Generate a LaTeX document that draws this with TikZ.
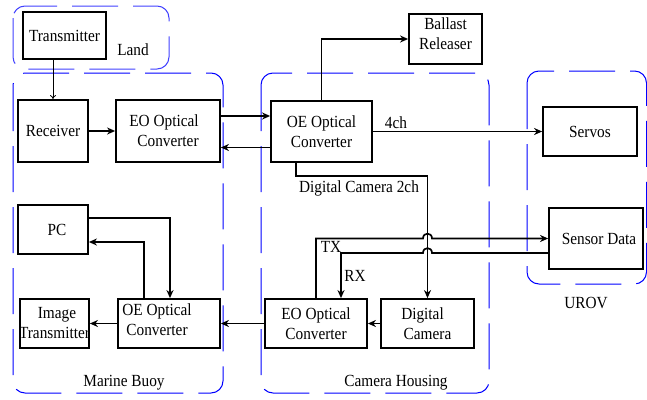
\documentclass[tikz,border=0pt]{standalone}
\usepackage{fontspec}
\setmainfont{Liberation Serif}[FakeStretch=0.9]
\usetikzlibrary{arrows.meta,calc}

\begin{document}
\begin{tikzpicture}[x=1pt,y=-1pt,
  font=\fontsize{17}{20}\selectfont,
  box/.style={draw, line width=1.8pt, inner sep=0pt, align=center},
  group/.style={draw=blue, line width=1pt, rounded corners=12pt,
                dash pattern=on 46pt off 15pt},
  conn/.style={line width=1.7pt, -{Stealth[length=8pt,width=7pt,inset=2.5pt]}},
  thin/.style={line width=0.8pt, -{To[length=4pt,width=6pt]}},
  tag/.style={inner sep=0pt}]
\useasboundingbox (0,0) rectangle (647,399);

% enclosing regions
\draw[group, draw=blue!75] (13,6) rectangle (169,69);
\draw[group] (13,73) rectangle (223,393);
\draw[group] (261,73) rectangle (489,393);
\draw[group] (527,71) rectangle (646.5,284);

% blocks
\node[box, minimum width=83pt, minimum height=47pt] (tx) at (64.5,35.5) {Transmitter};
\node[box, minimum width=70pt, minimum height=62pt] (rx) at (53,131) {Receiver};
\node[box, minimum width=104pt, minimum height=62pt] (eo1) at (168,131) {\hspace*{-8pt}EO Optical\\Converter};
\node[box, minimum width=101pt, minimum height=61pt] (oe1) at (321.5,131.5) {OE Optical\\Converter};
\node[box, minimum width=73pt, minimum height=50pt] (bal) at (445.5,39) {Ballast\\Releaser\\[-9pt]};
\node[box, minimum width=94pt, minimum height=49pt] (srv) at (590,131.5) {Servos};
\node[box, minimum width=94pt, minimum height=61pt] (sen) at (596,238.5) {\hspace*{6pt}Sensor Data};
\node[box, minimum width=70pt, minimum height=49pt] (pc) at (53,229.5) {\hspace*{8pt}PC};
\node[box, minimum width=69pt, minimum height=49pt] (img) at (54.5,323.5) {\hspace*{5pt}Image\\\makebox[60pt]{Transmitter}};
\node[box, minimum width=102pt, minimum height=49pt] (oe2) at (169,323.5) {};
\node[tag, align=center] (oe2t) at (157,319.5) {OE Optical\\Converter};
\node[box, minimum width=102pt, minimum height=49pt] (eo2) at (316,323.5) {EO Optical\\Converter};
\node[box, minimum width=93pt, minimum height=49pt] (dc) at (427.5,323.5) {\hspace*{-10pt}Digital\\Camera};

% region and channel labels
\node[tag] (landlbl) at (133,50) {Land};
\node[tag] (buoylbl) at (124,383) {Marine Buoy};
\node[tag] (houslbl) at (396,383) {Camera Housing};
\node[tag] (urovlbl) at (586,303) {UROV};
\node[tag] (ch4) at (396,123) {4ch};
\node[tag] (ch2) at (359,188) {Digital Camera 2ch};
\node[tag] (txlbl) at (331,247) {TX};
\node[tag] (rxlbl) at (355,276) {RX};

% shore link
\draw[thin] (rx.north |- tx.south) -- (rx.north);

% buoy top row
\draw[conn] (rx.east) -- (eo1.west);
\draw[conn] ([yshift=15pt]eo1.east) -- ([yshift=15pt]eo1.east -| oe1.west);
\draw[conn] ([yshift=-16pt]oe1.west) -- ([yshift=-16pt]oe1.west -| eo1.east);

% housing outputs
\draw[conn] (oe1.north) |- (bal.west);
\draw[conn] (oe1.east |- srv.west) -- (srv.west);
\draw[conn] ([xshift=-25.5pt]oe1.south) -- ++(0,13) -| (dc.north);

% sensor data link, hopping over the camera line
\coordinate (txhopL) at ([xshift=-4.5pt]dc.north |- sen.west);
\coordinate (txhopR) at ([xshift=4.5pt]dc.north |- sen.west);
\coordinate (rxstart) at ([yshift=-14.5pt]sen.west);
\coordinate (rxhopR) at ([xshift=4.5pt]dc.north |- rxstart);
\coordinate (rxhopL) at ([xshift=-4.5pt]dc.north |- rxstart);
\draw[conn] (eo2.north) |- (txhopL) .. controls +(0,-6.5) and +(0,-6.5) .. (txhopR) -- (sen.west);
\draw[conn] (rxstart) -- (rxhopR) .. controls +(0,-6.5) and +(0,-6.5) .. (rxhopL) -| ([xshift=25pt]eo2.north);

% bottom row
\draw[conn] (dc.west) -- (eo2.east);
\draw[conn] (eo2.west) -- (oe2.east);
\draw[conn] (oe2.west) -- (img.east);
\draw[conn] ([yshift=11.5pt]pc.east) -| ([xshift=1pt]oe2.north);
\draw[conn] ([xshift=-25pt]oe2.north) |- ([yshift=-12.5pt]pc.east);
\end{tikzpicture}
\end{document}
